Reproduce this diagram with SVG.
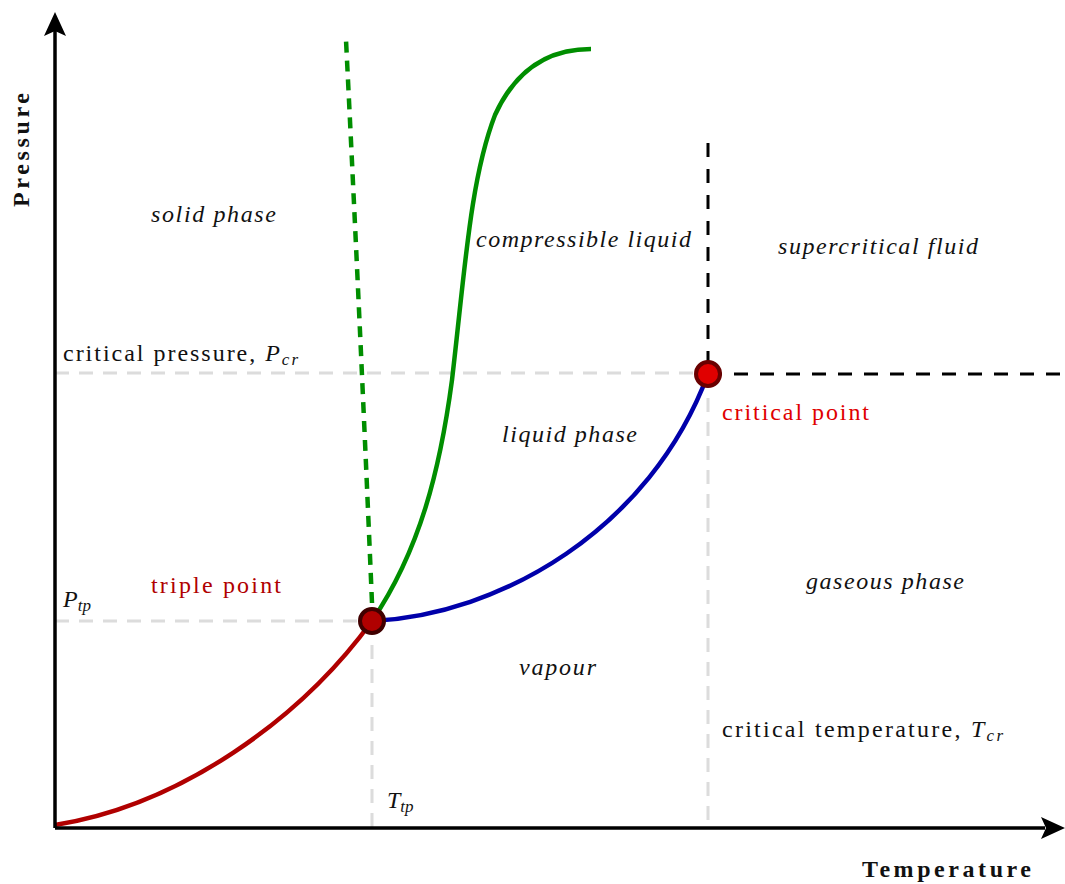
<svg xmlns="http://www.w3.org/2000/svg" width="1065" height="884" viewBox="0 0 1065 884">
<style>
text{font-family:"Liberation Serif","DejaVu Serif",serif;font-size:24px;fill:#111}
.it{font-style:italic}
.b{font-weight:bold}
.sub{font-size:17px;font-style:italic}
.grid{stroke:#dcdcdc;stroke-width:3;stroke-dasharray:14 10;fill:none}
.blk{stroke:#000;stroke-width:3;stroke-dasharray:14 12;fill:none}
.axis{stroke:#000;stroke-width:3.5;fill:none}
.curve{fill:none;stroke-width:4.5}
</style>
<rect width="1065" height="884" fill="#fff"/>
<g id="connectors">
<path class="grid" d="M55,373 H708"/>
<path class="grid" d="M55,621 H372"/>
<path class="grid" d="M372,621 V828"/>
<path class="grid" d="M708,374 V828"/>
<path class="blk" d="M708,143 V374"/>
<path class="blk" d="M708,374 H1065"/>
<path class="curve" stroke="#b00000" d="M55,825 C180,805 300,720 372,621"/>
<path class="curve" stroke="#0000aa" d="M372,621 C500,615 650,530 708,374"/>
<path class="curve" stroke="#008e00" d="M372,621 C420,550 440,470 452,380 C465,270 470,180 495,115 C520,60 560,49 591,49"/>
<path class="curve" stroke="#008e00" stroke-dasharray="11 8" d="M372,603 Q360,320 346,40"/>
<path class="axis" d="M55,828 V30"/>
<path d="M55,12 L66,36 L55,31 L44,36 Z" fill="#000"/>
<path class="axis" d="M55,828 H1045"/>
<path d="M1065,828 L1041,839 L1046,828 L1041,817 Z" fill="#000"/>
</g>
<g id="triple-point"><circle cx="372" cy="621" r="12" fill="#b00000" stroke="#400000" stroke-width="4"/></g>
<g id="critical-point"><circle cx="708" cy="374" r="12" fill="#e00000" stroke="#6a0000" stroke-width="4"/></g>
<g id="labels">
<text class="it" x="151" y="222" textLength="125">solid phase</text>
<text class="it" x="476" y="247" textLength="215">compressible liquid</text>
<text class="it" x="778" y="254" textLength="200">supercritical fluid</text>
<text x="63" y="361" textLength="235">critical pressure, <tspan class="it">P</tspan><tspan class="sub" dy="4">cr</tspan></text>
<text x="722" y="420" textLength="147" style="fill:#e00000">critical point</text>
<text class="it" x="502" y="442" textLength="135">liquid phase</text>
<text x="151" y="593" textLength="130" style="fill:#b00000">triple point</text>
<text class="it" x="806" y="589" textLength="158">gaseous phase</text>
<text x="63" y="607"><tspan class="it">P</tspan><tspan class="sub" dy="4">tp</tspan></text>
<text class="it" x="519" y="675" textLength="77">vapour</text>
<text x="722" y="737" textLength="281">critical temperature, <tspan class="it">T</tspan><tspan class="sub" dy="4">cr</tspan></text>
<text x="387" y="808"><tspan class="it">T</tspan><tspan class="sub" dy="4">tp</tspan></text>
<text class="b" x="862" y="877" textLength="169">Temperature</text>
<text class="b" transform="translate(29,207) rotate(-90)" textLength="114">Pressure</text>
</g>
</svg>
